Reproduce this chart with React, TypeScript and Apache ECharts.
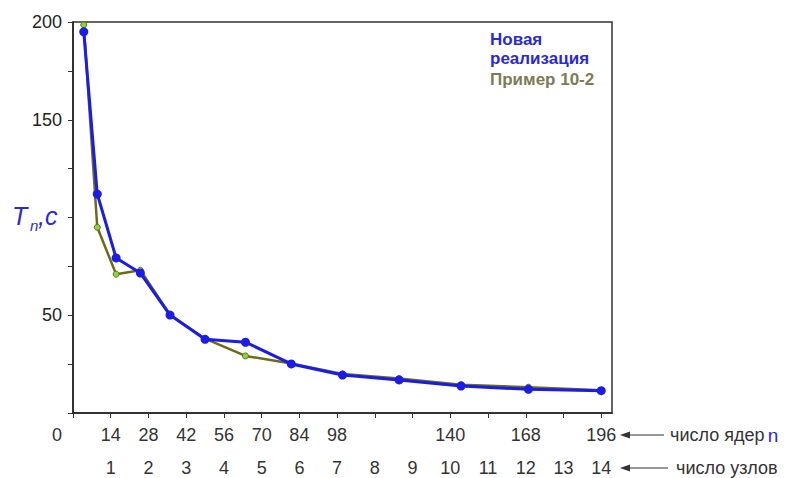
import React, { useEffect, useRef } from "react";
import * as echarts from "echarts";

const cores = [4, 9, 16, 25, 36, 49, 64, 81, 100, 121, 144, 169, 196];
const newImpl = [195, 112, 79.3, 71.6, 50.1, 37.7, 36.2, 25.1, 19.4, 16.9, 13.8, 12.1, 11.4];
const example102 = [198.5, 95, 71, 73, 50.3, 38, 29.2, 25.3, 19.9, 17.6, 14.5, 13.2, 11.6];
const coreTicks = [0, 14, 28, 42, 56, 70, 84, 98, 112, 126, 140, 154, 168, 182, 196];
const coreLabels = [0, 14, 28, 42, 56, 70, 84, 98, 140, 168, 196];
const nodeLabels = [1, 2, 3, 4, 5, 6, 7, 8, 9, 10, 11, 12, 13, 14];
const yLabels = [50, 150, 200];
const seriesNames = ["Новая\nреализация", "Пример 10-2"];

const FONT = "Liberation Sans, Arial, sans-serif";

export default function App() {
  const ref = useRef<HTMLDivElement>(null);
  useEffect(() => {
    const chart = echarts.init(ref.current!, null, { renderer: "svg" });
    const blue = "#1c1ce8";
    const olive = "#6b6b18";
    const labelBlue = "#2a2ad0";
    chart.setOption({
      animation: false,
      grid: {
        left: 73, right: 174, top: 22, bottom: 65,
        show: true, borderColor: "#333", borderWidth: 1.5, backgroundColor: "transparent",
      },
      legend: {
        left: 485, top: 30, orient: "vertical", itemWidth: 0, itemHeight: 0, itemGap: 2,
        icon: "none", selectedMode: false, padding: 0,
        textStyle: { fontFamily: FONT, fontSize: 17, fontWeight: "bold", lineHeight: 19 },
        data: [
          { name: seriesNames[0], textStyle: { color: "#2a2ad6" } },
          { name: seriesNames[1], textStyle: { color: "#7c7c56" } },
        ],
      },
      xAxis: [
        {
          type: "value", min: 0, max: 200, position: "bottom",
          axisLine: { show: true, lineStyle: { color: "#222", width: 1.5 } },
          axisTick: { show: true, length: 5, customValues: coreTicks, lineStyle: { color: "#333" } },
          splitLine: { show: false },
          axisLabel: {
            customValues: coreLabels, margin: 13, color: "#333", fontFamily: FONT, fontSize: 18,
            formatter: (v: number) => (v === 0 ? "{z|0}" : String(v)),
            rich: { z: { padding: [0, 32, 0, 0], fontFamily: FONT, fontSize: 18, color: "#333" } },
          },
        },
        {
          type: "value", min: 0, max: 200, position: "bottom", offset: 33,
          axisLine: { show: false }, axisTick: { show: false }, splitLine: { show: false },
          axisLabel: {
            customValues: nodeLabels.map((n) => n * 14), margin: 13, color: "#333",
            fontFamily: FONT, fontSize: 18,
            formatter: (v: number) => String(Math.round(v / 14)),
          },
        },
      ],
      yAxis: {
        type: "value", min: 0, max: 200, interval: 25,
        axisLine: { show: true, lineStyle: { color: "#222", width: 1.5 } },
        axisTick: { show: true, length: 5, lineStyle: { color: "#333" } },
        splitLine: { show: false },
        axisLabel: { customValues: yLabels, margin: 11, color: "#222", fontFamily: FONT, fontSize: 18 },
      },
      series: [
        {
          name: seriesNames[1], type: "line", xAxisIndex: 0,
          data: cores.map((c, i) => [c, example102[i]]),
          symbol: "circle", symbolSize: 6,
          lineStyle: { color: olive, width: 2.5 },
          itemStyle: { color: "#86d640", borderColor: olive, borderWidth: 1 },
          z: 2,
        },
        {
          name: seriesNames[0], type: "line", xAxisIndex: 0,
          data: cores.map((c, i) => [c, newImpl[i]]),
          symbol: "circle", symbolSize: 9,
          lineStyle: { color: blue, width: 3 },
          itemStyle: { color: blue },
          z: 3,
        },
      ],
      graphic: [
        {
          type: "text", x: 12, y: 216,
          style: { text: "T", verticalAlign: "middle", fontFamily: FONT, fontSize: 25, fontStyle: "italic", fill: labelBlue },
        },
        {
          type: "text", x: 30, y: 225,
          style: { text: "n", verticalAlign: "middle", fontFamily: FONT, fontSize: 15, fontStyle: "italic", fill: labelBlue },
        },
        {
          type: "text", x: 38, y: 216,
          style: { text: ",c", verticalAlign: "middle", fontFamily: FONT, fontSize: 25, fontStyle: "italic", fill: labelBlue },
        },
        { type: "line", shape: { x1: 628, y1: 435, x2: 664, y2: 435 }, style: { stroke: "#333", lineWidth: 1 } },
        { type: "polygon", shape: { points: [[620, 435], [630, 431.5], [630, 438.5]] }, style: { fill: "#333" } },
        { type: "line", shape: { x1: 628, y1: 468, x2: 668, y2: 468 }, style: { stroke: "#333", lineWidth: 1 } },
        { type: "polygon", shape: { points: [[620, 468], [630, 464.5], [630, 471.5]] }, style: { fill: "#333" } },
        {
          type: "text", x: 670, y: 435,
          style: {
            text: "{a|число ядер} {b|n}", verticalAlign: "middle",
            rich: {
              a: { fontFamily: FONT, fontSize: 18, fill: "#333" },
              b: { fontFamily: FONT, fontSize: 19, fill: "#2a2ad6" },
            },
          },
        },
        {
          type: "text", x: 676, y: 468,
          style: { text: "число узлов", verticalAlign: "middle", fontFamily: FONT, fontSize: 18, fill: "#333" },
        },
      ],
    });
    return () => chart.dispose();
  }, []);
  return (
    <div
      ref={ref}
      style={{ position: "fixed", left: 0, top: 0, width: 786, height: 478, background: "#fff" }}
    />
  );
}
